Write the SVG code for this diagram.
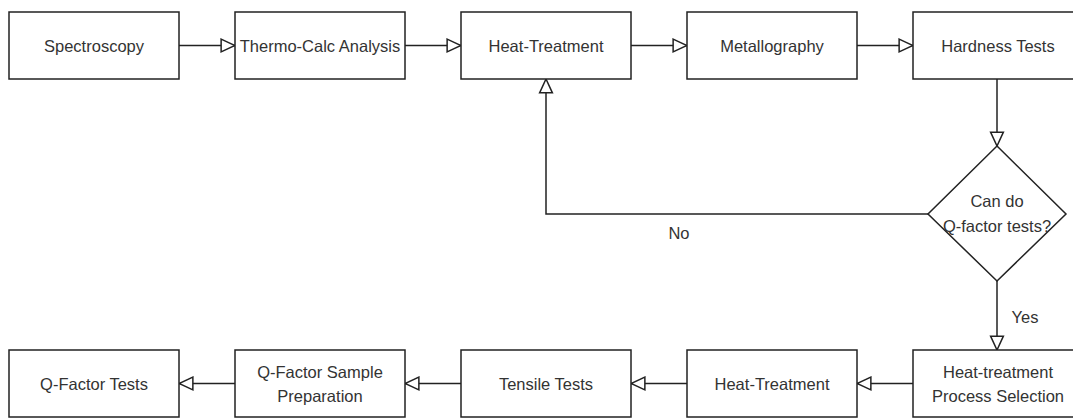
<svg xmlns="http://www.w3.org/2000/svg" width="1073" height="418" viewBox="0 0 1073 418">
<style>
.box{fill:#fff;stroke:#222;stroke-width:1.5}
.lbl{font-family:"Liberation Sans",Arial,sans-serif;font-size:16.5px;fill:#333;text-anchor:middle}
.edge{fill:none;stroke:#222;stroke-width:1.5}
</style>
<defs>
<marker id="arr" markerUnits="userSpaceOnUse" markerWidth="16" markerHeight="16" viewBox="-1 -1 15 14" refX="13" refY="6" orient="auto">
<path d="M0,0 L13,6 L0,12 Z" fill="#fff" stroke="#222" stroke-width="1.4"/>
</marker>
</defs>
<rect width="1073" height="418" fill="#fff"/>
<g id="connectors">
<path class="edge" d="M179,45.5 H235" marker-end="url(#arr)"/>
<path class="edge" d="M405,45.5 H461" marker-end="url(#arr)"/>
<path class="edge" d="M631,45.5 H687" marker-end="url(#arr)"/>
<path class="edge" d="M857,45.5 H913" marker-end="url(#arr)"/>
<path class="edge" d="M997,79 V146" marker-end="url(#arr)"/>
<path class="edge" d="M928,214 H546 V79" marker-end="url(#arr)"/>
<path class="edge" d="M997,281 V350" marker-end="url(#arr)"/>
<path class="edge" d="M913,383.5 H857" marker-end="url(#arr)"/>
<path class="edge" d="M687,383.5 H631" marker-end="url(#arr)"/>
<path class="edge" d="M461,383.5 H405" marker-end="url(#arr)"/>
<path class="edge" d="M235,383.5 H179" marker-end="url(#arr)"/>
<text class="lbl" x="679" y="239">No</text>
<text class="lbl" x="1025" y="323">Yes</text>
</g>
<g id="spectroscopy"><rect class="box" x="9" y="12" width="170" height="67"/><text class="lbl" x="94" y="51.5">Spectroscopy</text></g>
<g id="thermocalc"><rect class="box" x="235" y="12" width="170" height="67"/><text class="lbl" x="320" y="51.5">Thermo-Calc Analysis</text></g>
<g id="heattreatment1"><rect class="box" x="461" y="12" width="170" height="67"/><text class="lbl" x="546" y="51.5">Heat-Treatment</text></g>
<g id="metallography"><rect class="box" x="687" y="12" width="170" height="67"/><text class="lbl" x="772" y="51.5">Metallography</text></g>
<g id="hardness"><rect class="box" x="913" y="12" width="170" height="67"/><text class="lbl" x="998" y="51.5">Hardness Tests</text></g>
<g id="decision"><path class="box" d="M997,146 L1066,214 L997,281 L928,214 Z"/><text class="lbl" x="997" y="207">Can do</text><text class="lbl" x="997" y="232">Q-factor tests?</text></g>
<g id="processselection"><rect class="box" x="913" y="350" width="170" height="67"/><text class="lbl" x="998" y="378">Heat-treatment</text><text class="lbl" x="998" y="402">Process Selection</text></g>
<g id="heattreatment2"><rect class="box" x="687" y="350" width="170" height="67"/><text class="lbl" x="772" y="389.5">Heat-Treatment</text></g>
<g id="tensile"><rect class="box" x="461" y="350" width="170" height="67"/><text class="lbl" x="546" y="389.5">Tensile Tests</text></g>
<g id="sampleprep"><rect class="box" x="235" y="350" width="170" height="67"/><text class="lbl" x="320" y="378">Q-Factor Sample</text><text class="lbl" x="320" y="402">Preparation</text></g>
<g id="qfactortests"><rect class="box" x="9" y="350" width="170" height="67"/><text class="lbl" x="94" y="389.5">Q-Factor Tests</text></g>
</svg>
